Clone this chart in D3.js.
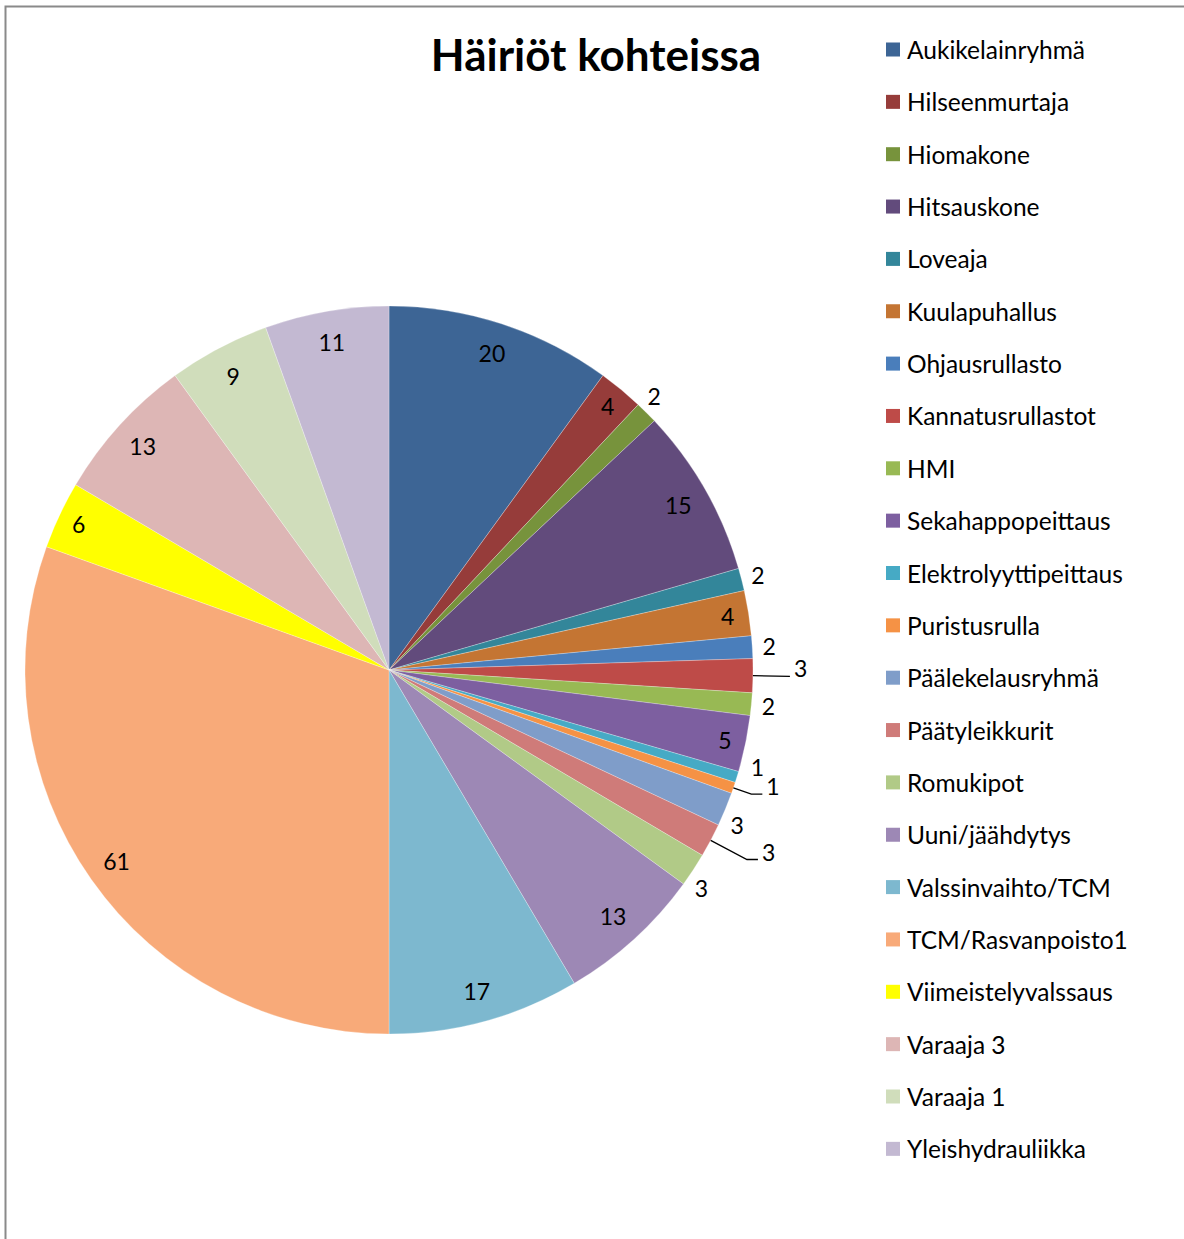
<!DOCTYPE html>
<html>
<head>
<meta charset="utf-8">
<script src="https://cdn.jsdelivr.net/npm/d3@7"></script>
<style>
  html, body { margin: 0; padding: 0; background: #fff; }
  svg { display: block; }
</style>
</head>
<body>
<svg id="chart" width="1184" height="1239"></svg>
<script>
const title = "Häiriöt kohteissa";
const categories = ["Aukikelainryhmä","Hilseenmurtaja","Hiomakone","Hitsauskone","Loveaja","Kuulapuhallus","Ohjausrullasto","Kannatusrullastot","HMI","Sekahappopeittaus","Elektrolyyttipeittaus","Puristusrulla","Päälekelausryhmä","Päätyleikkurit","Romukipot","Uuni/jäähdytys","Valssinvaihto/TCM","TCM/Rasvanpoisto1","Viimeistelyvalssaus","Varaaja 3","Varaaja 1","Yleishydrauliikka"];
const values = [20,4,2,15,2,4,2,3,2,5,1,1,3,3,3,13,17,61,6,13,9,11];
const colors = ["#3D6595","#963C3A","#77933C","#624B7C","#33869A","#C47533","#4A7EBB","#BE4B48","#98B954","#7D5FA0","#46AAC5","#F59245","#7F9DC9","#CF7B79","#B1CA87","#9D88B5","#7DB8CF","#F8AA79","#FFFF00","#DDB6B5","#D0DDBB","#C3B9D2"];
// labels drawn with a leader line: extra radius of elbow beyond pie edge
const leaderExtra = {"Kannatusrullastot": 37, "Puristusrulla": 19, "Päätyleikkurit": 41};
// small angular nudges (degrees) for outside labels, as placed by the original
const labelNudge = {"Hiomakone": -0.9, "Elektrolyyttipeittaus": -2.4, "Päälekelausryhmä": 1.5, "Romukipot": 1.6};

const svg = d3.select("#chart");
const font = "Lato, 'Open Sans', sans-serif";

// chart border (only left and top visible)
svg.append("path")
  .attr("d", "M5.5,1239 L5.5,6.5 L1184,6.5")
  .attr("fill", "none").attr("stroke", "#8a8a8a").attr("stroke-width", 2);

svg.append("text")
  .attr("x", 596).attr("y", 71)
  .attr("text-anchor", "middle")
  .attr("font-family", font).attr("font-weight", "bold").attr("font-size", 44)
  .attr("fill", "#000")
  .text(title);

const cx = 389, cy = 670, R = 364;
const data = categories.map((c, i) => ({ name: c, value: values[i], color: colors[i] }));
const pie = d3.pie().value(d => d.value).sort(null);
const arcs = pie(data);
const arc = d3.arc().innerRadius(0).outerRadius(R);

const g = svg.append("g").attr("transform", `translate(${cx},${cy})`);
g.selectAll("path.slice").data(arcs).join("path")
  .attr("class", "slice")
  .attr("d", arc)
  .attr("fill", d => d.data.color)
  .attr("stroke", "rgba(255,255,255,0.45)")
  .attr("stroke-width", 0.6);

const outR = 381;
const labelSize = 23;
const pt = (a, r) => [Math.sin(a) * r, -Math.cos(a) * r];

arcs.forEach(d => {
  const mid = (d.startAngle + d.endAngle) / 2;
  const name = d.data.name;
  if (leaderExtra[name] !== undefined) {
    const p0 = pt(mid, R);
    const p1 = pt(mid, R + leaderExtra[name]);
    const horiz = Math.abs(Math.cos(mid)) < 0.1 ? 0 : 11;
    const p2 = [p1[0] + horiz, p1[1]];
    g.append("path")
      .attr("d", `M${p0[0]},${p0[1]} L${p1[0]},${p1[1]} L${p2[0]},${p2[1]}`)
      .attr("fill", "none").attr("stroke", "#000").attr("stroke-width", 1.3);
    g.append("text")
      .attr("x", p2[0] + 4).attr("y", p2[1] + 1)
      .attr("text-anchor", "start")
      .attr("font-family", font).attr("font-size", labelSize).attr("fill", "#000")
      .text(d.data.value);
  } else {
    let r, a = mid;
    if (d.data.value >= 4) {
      r = d.data.value <= 6 ? 343 : 333;
    } else {
      r = outR;
      a = mid + (labelNudge[name] || 0) * Math.PI / 180;
    }
    const p = pt(a, r);
    g.append("text")
      .attr("x", p[0]).attr("y", p[1])
      .attr("text-anchor", "middle")
      .attr("dominant-baseline", "central")
      .attr("font-family", font).attr("font-size", labelSize).attr("fill", "#000")
      .text(d.data.value);
  }
});

// legend
const legend = svg.append("g");
const ly0 = 49.5, lstep = 52.35;
data.forEach((d, i) => {
  const y = ly0 + i * lstep;
  legend.append("rect")
    .attr("x", 886).attr("y", y - 7).attr("width", 14).attr("height", 14)
    .attr("fill", d.color);
  legend.append("text")
    .attr("x", 907).attr("y", y)
    .attr("dominant-baseline", "central")
    .attr("font-family", font).attr("font-size", 24.5).attr("fill", "#000")
    .text(d.name);
});
</script>
</body>
</html>
